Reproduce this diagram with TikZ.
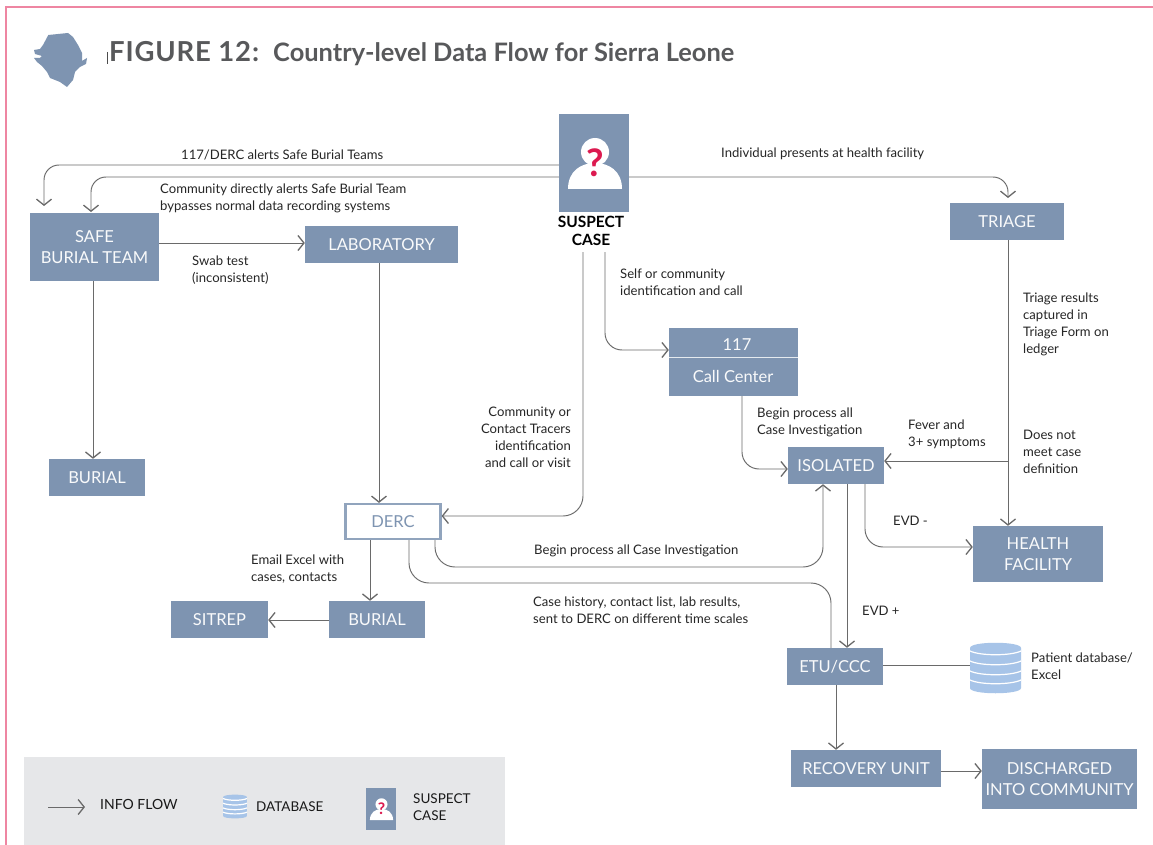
\documentclass[tikz,border=0pt]{standalone}
\usepackage{fontspec}
\setmainfont{Lato}
\usetikzlibrary{arrows.meta}
\definecolor{boxc}{HTML}{7E94B1}
\definecolor{linec}{HTML}{6A6A6A}
\definecolor{titlec}{HTML}{58595B}
\definecolor{legendc}{HTML}{E6E7E9}
\definecolor{pinkc}{HTML}{EE86A2}
\definecolor{dbc}{HTML}{A7C4E8}
\definecolor{qc}{HTML}{DC1A50}
\tikzset{
  box/.style={fill=boxc,text=white!95!boxc,inner sep=0pt,align=center,font=\fontsize{16.5}{21}\selectfont},
  flow/.style={draw=linec,line width=.95pt,-{Straight Barb[length=6pt,width=15pt,line width=1.3pt]}},
  plain/.style={draw=linec,line width=.95pt},
  lab/.style={inner sep=0pt,text=black!85,align=left,anchor=west,font=\fontsize{13.1}{17}\selectfont},
  leg/.style={inner sep=0pt,text=black!90,align=left,anchor=west,font=\fontsize{13.5}{17}\selectfont},
}
\newcommand{\personicon}[4]{%
  \begin{scope}[shift={(#1,#2)},scale=#3]
    \fill[white] (0,-11) circle (14);
    \fill[white] (-27,26) .. controls (-27,8) and (-14,0) .. (0,0) .. controls (14,0) and (27,8) .. (27,26) -- cycle;
    \node[inner sep=0pt,text=qc,font=\fontsize{#4}{#4}\selectfont\bfseries] at (0,0) {?};
  \end{scope}}
\newcommand{\dbicon}[3]{%
  \begin{scope}[shift={(#1,#2)},scale=#3]
    \fill[dbc] (-25.5,-20) .. controls (-25.5,-27) and (25.5,-27) .. (25.5,-20) -- (25.5,20) .. controls (25.5,27) and (-25.5,27) .. (-25.5,20) -- cycle;
    \foreach \yy in {-17,-7,3,12}{
      \draw[white,line width=1.2pt] (-25.5,\yy) .. controls (-15,\yy+5) and (15,\yy+5) .. (25.5,\yy);
    }
  \end{scope}}
\begin{document}
\begin{tikzpicture}[x=1pt,y=-1pt]
\useasboundingbox (0,0) rectangle (1153,845);
\fill[white] (0,0) rectangle (1153,845);
% page frame
\draw[pinkc,line width=1.6pt] (1153,7) -- (6,7) -- (6,845);
% map
\fill[boxc] (48.3,35) -- (58,34) -- (68,33) -- (73,37) -- (78,45) -- (82,53) -- (82,61) -- (87,58) -- (86,64) -- (80,67) -- (75,72) -- (73,80) -- (67,87) -- (60,82) -- (50,78) -- (47,72) -- (42,66) -- (37,62) -- (34,58) -- (40,58) -- (42,56) -- (35,54) -- (34,50) -- (40,49) -- (43,45) -- cycle;
\draw[black!70,line width=.5pt] (107,52) -- (107,64);
% title
\node[inner sep=0pt,anchor=base west,text=titlec,font=\fontsize{27.5}{30}\selectfont\bfseries\addfontfeatures{LetterSpace=3}] (t1) at (109,62) {FIGURE 12:};
\node[inner sep=0pt,anchor=base west,text=titlec,font=\fontsize{25.4}{30}\selectfont\bfseries] (t2) at (273,62) {Country-level Data Flow for Sierra Leone};
% legend
\fill[legendc] (24,757) rectangle (505,845);
% boxes
\node[box,minimum width=70pt,minimum height=98pt] (suspect) at (594,163) {};
\node[box,minimum width=129pt,minimum height=68pt] (safe) at (94.5,247) {SAFE\\BURIAL TEAM};
\node[box,minimum width=153pt,minimum height=37pt] (lab) at (381.5,244.5) {LABORATORY};
\node[box,minimum width=114pt,minimum height=37pt] (triage) at (1007,221.5) {TRIAGE};
\node[box,minimum width=129pt,minimum height=68pt] (cc) at (733.5,362) {};
\node[inner sep=0pt,text=white!95!boxc,font=\fontsize{16.5}{21}\selectfont] (cca) at (737,345) {117};
\node[inner sep=0pt,text=white!95!boxc,font=\fontsize{16.5}{21}\selectfont] (ccb) at (733,376) {Call Center};
\draw[white!80!boxc,line width=1pt] (cc.west |- 0,357.5) -- (cc.east |- 0,357.5);
\node[box,minimum width=96pt,minimum height=37pt] (iso) at (836,465.5) {ISOLATED};
\node[box,minimum width=130pt,minimum height=56pt] (hf) at (1038,554) {HEALTH\\FACILITY};
\node[box,fill=white,draw=boxc!85!white,line width=2.2pt,text=boxc,minimum width=95pt,minimum height=35pt] (derc) at (393,521.5) {DERC};
\node[box,minimum width=96pt,minimum height=37pt] (burial2) at (377,619.5) {BURIAL};
\node[box,minimum width=97pt,minimum height=37pt] (sitrep) at (219.5,619.5) {SITREP};
\node[box,minimum width=96pt,minimum height=37pt] (burial1) at (97,477.5) {BURIAL};
\node[box,minimum width=96pt,minimum height=37pt] (etu) at (835,666.5) {ETU/CCC};
\node[box,minimum width=150pt,minimum height=37pt] (rec) at (866,768.5) {RECOVERY UNIT};
\node[box,minimum width=155pt,minimum height=60pt] (dis) at (1059.5,779) {DISCHARGED\\INTO COMMUNITY};
\node[inner sep=0pt,minimum width=51pt,minimum height=50pt] (db) at (995.5,668) {};
\personicon{595}{163}{1}{38}
\dbicon{995.5}{668}{1}
% suspect label
\node[inner sep=0pt,align=center,text=black,font=\fontsize{15.5}{18}\selectfont\bfseries] (sl) at (591,231) {SUSPECT\\CASE};
% connectors
\draw[flow,rounded corners=15pt] (suspect.west |- 0,165) -- (44,165) -- (44,206);
\draw[flow,rounded corners=15pt] (suspect.west |- 0,177) -- (91,177) -- (91,212);
\draw[flow,rounded corners=15pt] (suspect.east |- 0,177) -- (1008,177) -- (1008,198);
\draw[flow] (safe.east |- 0,243) -- (lab.west |- 0,243);
\draw[flow] (safe.south -| 93,0) -- (burial1.north -| 93,0);
\draw[flow] (lab.south -| 379,0) -- (derc.north -| 379,0);
\draw[flow,rounded corners=20pt] (583,252) -- (583,516) -- (derc.east |- 0,516);
\draw[flow,rounded corners=17pt] (605,252) -- (605,350) -- (cc.west |- 0,350);
\draw[flow,rounded corners=17pt] (cc.south -| 742,0) -- (742,469) -- (iso.west |- 0,469);
\draw[flow] (triage.south -| 1008,0) -- (hf.north -| 1008,0);
\coordinate (br) at (1008,461);
\draw[flow] (br) -- (iso.east |- br);
\draw[flow] (iso.south -| 847,0) -- (etu.north -| 847,0);
\draw[flow,rounded corners=18pt] (iso.south -| 865,0) -- (865,547) -- (hf.west |- 0,547);
\draw[flow,rounded corners=20pt] (derc.south -| 435,0) -- (435,567) -- (823,567) -- (iso.south -| 823,0);
\draw[plain,rounded corners=20pt] (derc.south -| 409,0) -- (409,583) -- (831,583) -- (etu.north -| 831,0);
\draw[flow] (derc.south -| 370,0) -- (burial2.north -| 370,0);
\draw[flow] (burial2.west |- 0,620) -- (sitrep.east |- 0,620);
\draw[flow] (etu.south -| 836,0) -- (rec.north -| 836,0);
\draw[flow] (rec.east |- 0,771) -- (dis.west |- 0,771);
\draw[plain] (etu.east |- 0,665) -- (db.west |- 0,665);
% labels
\node[lab] (l1) at (181,155) {117/DERC alerts Safe Burial Teams};
\node[lab] (l2) at (160,198) {Community directly alerts Safe Burial Team\\bypasses normal data recording systems};
\node[lab] (l3) at (192,270) {Swab test\\(inconsistent)};
\node[lab] (l4) at (721,154) {Individual presents at health facility};
\node[lab] (l5) at (620,282) {Self or community\\identification and call};
\node[lab,anchor=east,align=right] (l6) at (571,437) {Community or\\Contact Tracers\\identification\\and call or visit};
\node[lab] (l7) at (757,422) {Begin process all\\Case Investigation};
\node[lab] (l8) at (908,434) {Fever and\\3+ symptoms};
\node[lab] (l9) at (1023,452) {Does not\\meet case\\definition};
\node[lab] (l10) at (1023,324) {Triage results\\captured in\\Triage Form on\\ledger};
\node[lab] (l11) at (893,521) {EVD -};
\node[lab] (l12) at (862,611) {EVD +};
\node[lab] (l13) at (534,551) {Begin process all Case Investigation};
\node[lab] (l14) at (533,610) {Case history, contact list, lab results,\\sent to DERC on different time scales};
\node[lab] (l15) at (251,569) {Email Excel with\\cases, contacts};
\node[lab] (l16) at (1031,666) {Patient database/\\Excel};
% legend content
\coordinate (lga) at (48,807);
\coordinate (lgb) at (85,807);
\draw[flow] (lga) -- (lgb);
\node[leg,font=\fontsize{14}{17}\selectfont] (lg1) at (100,804) {INFO FLOW};
\dbicon{235}{806.5}{.47}
\node[leg] (lg2) at (256,807) {DATABASE};
\node[box,minimum width=30pt,minimum height=42pt] (lg3) at (381,809) {};
\personicon{381.5}{809}{.43}{16}
\node[leg] (lg4) at (413,807) {SUSPECT\\CASE};
\end{tikzpicture}
\end{document}
